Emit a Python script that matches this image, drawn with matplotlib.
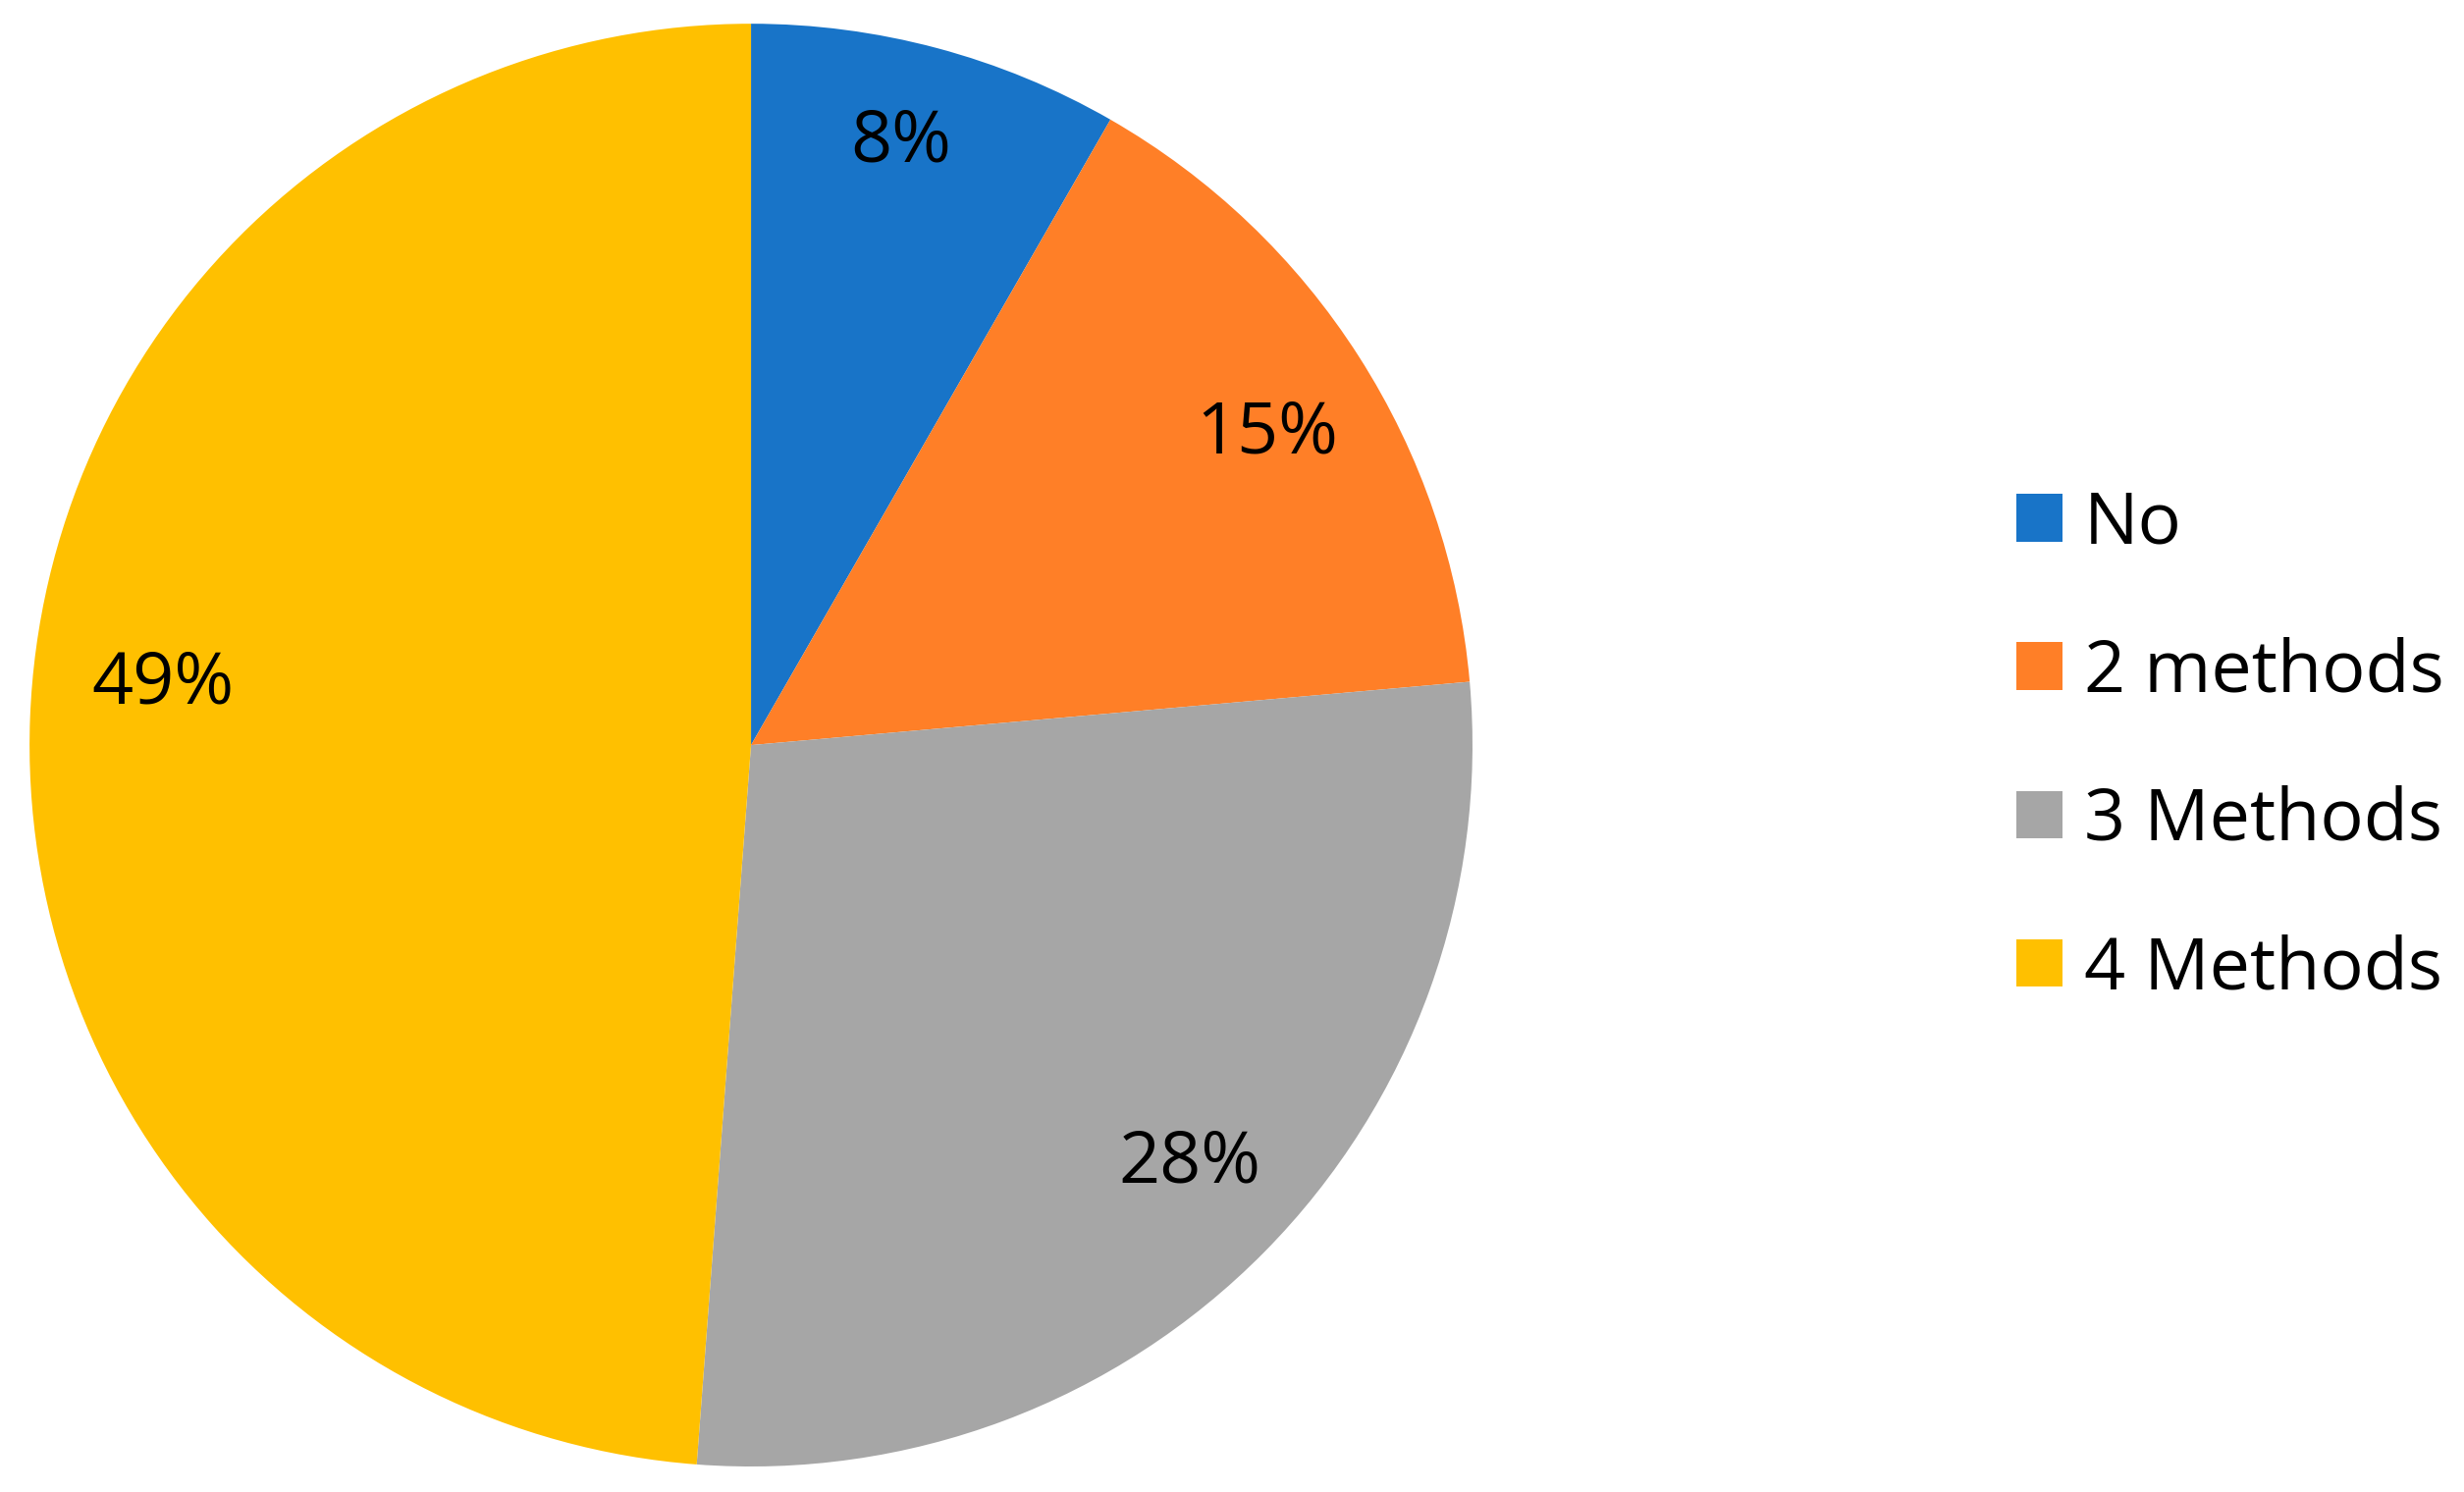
import numpy as np
import matplotlib.pyplot as plt
from matplotlib.patches import Patch

plt.rcParams['font.family'] = ['Open Sans', 'DejaVu Sans']

labels = ['No', '2 methods', '3 Methods', '4 Methods']
shares = [8.3, 15.3, 27.6, 48.8]
colors = ['#1874C8', '#FF7F27', '#A6A6A6', '#FFC000']

# label placement (radius fraction, angle nudge in degrees), like Excel's best fit
label_r = [0.86, 0.835, 0.84, 0.82]
label_nudge = [1.0, -1.5, 1.0, -3.7]

fig = plt.figure(figsize=(25.1, 15.2), dpi=100)
ax = fig.add_axes([0.01195, 0.0171, 0.5857, 0.967])

wedges, texts, autotexts = ax.pie(shares, colors=colors, startangle=90, counterclock=False,
                                  autopct='%.0f%%', pctdistance=0.84, radius=1.0,
                                  wedgeprops=dict(linewidth=0),
                                  textprops=dict(fontsize=53, color='black'))
for w, t, r, d in zip(wedges, autotexts, label_r, label_nudge):
    ang = np.deg2rad((w.theta1 + w.theta2) / 2 + d)
    t.set_position((r * np.cos(ang), r * np.sin(ang)))

ax.set_xlim(-1, 1)
ax.set_ylim(-1, 1)
ax.set_aspect('equal')

handles = [Patch(facecolor=c, edgecolor='none') for c in colors]
fig.legend(handles, labels, loc='center left', bbox_to_anchor=(0.8183, 0.4993),
           frameon=False, fontsize=53, handlelength=0.64, handleheight=0.64,
           handletextpad=0.3, labelspacing=1.05, borderpad=0, borderaxespad=0)

fig.savefig('out.png', dpi=100)
